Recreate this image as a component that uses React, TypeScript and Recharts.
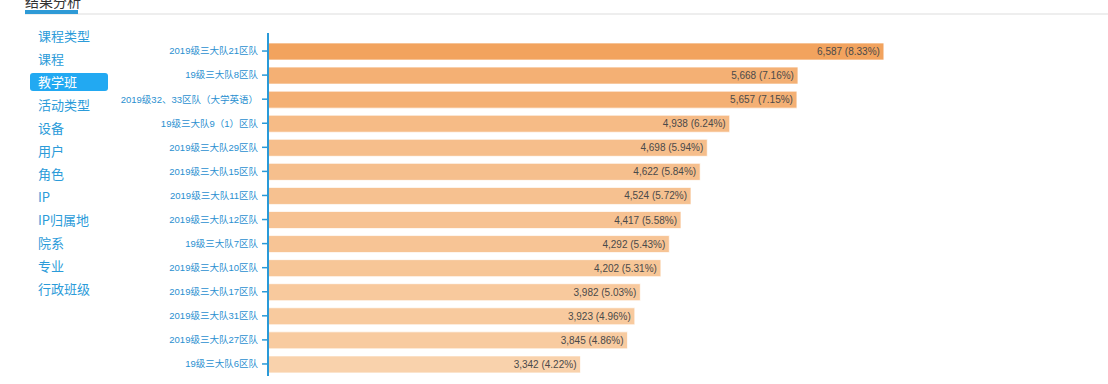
import { BarChart, Bar, XAxis, YAxis, Cell, LabelList } from "recharts";

const categories = [
  "2019级三大队21区队",
  "19级三大队8区队",
  "2019级32、33区队（大学英语）",
  "19级三大队9（1）区队",
  "2019级三大队29区队",
  "2019级三大队15区队",
  "2019级三大队11区队",
  "2019级三大队12区队",
  "19级三大队7区队",
  "2019级三大队10区队",
  "2019级三大队17区队",
  "2019级三大队31区队",
  "2019级三大队27区队",
  "19级三大队6区队",
];

const counts = [6587, 5668, 5657, 4938, 4698, 4622, 4524, 4417, 4292, 4202, 3982, 3923, 3845, 3342];

const shares = [8.33, 7.16, 7.15, 6.24, 5.94, 5.84, 5.72, 5.58, 5.43, 5.31, 5.03, 4.96, 4.86, 4.22];

const menuItems = ["课程类型", "课程", "教学班", "活动类型", "设备", "用户", "角色", "IP", "IP归属地", "院系", "专业", "行政班级"];
const activeMenu = "教学班";

const data = categories.map((name, i) => ({
  name,
  value: counts[i],
  label: `${counts[i].toLocaleString("en-US")} (${shares[i].toFixed(2)}%)`,
}));

const dark = [242, 163, 94];
const light = [249, 210, 172];
const maxV = Math.max(...counts);
const minV = Math.min(...counts);

function barColor(v: number) {
  const t = (maxV - v) / (maxV - minV);
  const c = dark.map((d, k) => Math.round(d + (light[k] - d) * t));
  return `rgb(${c[0]},${c[1]},${c[2]})`;
}

const blue = "#2a9ad8";
const font = "'Liberation Sans', Arial, 'Noto Sans CJK SC', sans-serif";

export default function App() {
  return (
    <div
      style={{
        position: "absolute",
        left: 0,
        top: 0,
        width: 1108,
        height: 384,
        overflow: "hidden",
        background: "#fff",
        fontFamily: font,
      }}
    >
      {/* header, title is clipped at the top like in the page */}
      <div style={{ position: "absolute", left: 25, top: -9, fontSize: 14, color: "#333" }}>结果分析</div>
      <div style={{ position: "absolute", left: 25, top: 13, width: 1083, height: 2, background: "#eeeeee" }} />
      <div style={{ position: "absolute", left: 25, top: 10, width: 53, height: 4, background: "#2e9ad6" }} />

      {/* side menu */}
      {menuItems.map((m, i) => {
        const active = m === activeMenu;
        return (
          <div
            key={m}
            style={{
              position: "absolute",
              left: active ? 30 : 38,
              top: 27 + i * 23,
              width: active ? 70 : undefined,
              height: 18,
              lineHeight: "18px",
              paddingLeft: active ? 8 : 0,
              fontSize: 13,
              color: active ? "#fff" : "#2b9bd9",
              background: active ? "#22a9f2" : "transparent",
              borderRadius: active ? 3 : 0,
              fontFamily: "'Noto Sans CJK SC', sans-serif",
            }}
          >
            {m}
          </div>
        );
      })}

      <div style={{ position: "absolute", left: 0, top: 0 }}>
        <BarChart
          width={1108}
          height={384}
          data={data}
          layout="vertical"
          margin={{ top: 33, right: 92, bottom: 8, left: 0 }}
        >
          <XAxis type="number" hide domain={[0, 8000]} />
          <YAxis
            type="category"
            dataKey="name"
            width={268}
            padding={{ top: 6, bottom: 0 }}
            tickSize={6}
            tickMargin={4}
            interval={0}
            axisLine={{ stroke: blue, strokeWidth: 2 }}
            tickLine={{ stroke: blue, strokeWidth: 1.5 }}
            tick={{ fill: "#2a8fd0", fontSize: 9.5, fontFamily: font }}
          />
          <Bar
            dataKey="value"
            barSize={17}
            isAnimationActive={false}
            stroke="rgba(255,255,255,0.7)"
            strokeWidth={1}
          >
            {data.map((d) => (
              <Cell key={d.name} fill={barColor(d.value)} />
            ))}
            <LabelList
              dataKey="label"
              position="insideRight"
              offset={4}
              fill="#4a4a4a"
              fontSize={10}
              fontFamily={font}
            />
          </Bar>
        </BarChart>
      </div>
    </div>
  );
}
